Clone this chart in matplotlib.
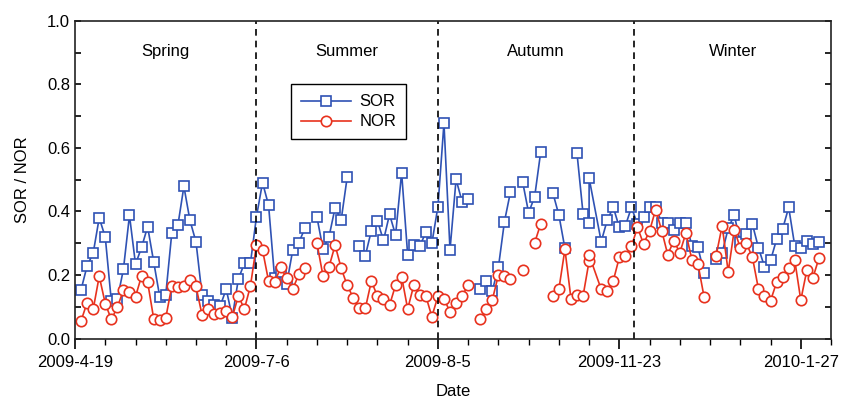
import numpy as np
import matplotlib
matplotlib.use('Agg')
import matplotlib.pyplot as plt
from matplotlib.ticker import MultipleLocator

plt.rcParams['font.family'] = ['Liberation Sans', 'DejaVu Sans']

nan = np.nan

# sample number along the x axis (two samples share number 85, none at 86)
sample = list(range(1, 86)) + [85] + list(range(87, 124))

sor = [0.154, 0.229, 0.269, 0.380, 0.319, 0.118, 0.124, 0.218, 0.388, 0.234,
       0.287, 0.352, 0.242, 0.132, 0.138, 0.333, 0.356, 0.479, 0.372, 0.304,
       0.137, 0.118, 0.105, 0.102, 0.156, 0.066, 0.187, 0.237, 0.237, 0.384,
       0.491, 0.420, 0.190, 0.210, 0.172, 0.279, 0.302, 0.347, nan, 0.382,
       0.282, 0.321, 0.412, 0.373, 0.508, nan, 0.292, 0.261, 0.340, 0.371,
       0.309, 0.391, 0.326, 0.522, 0.263, 0.295, 0.291, 0.334, 0.300, 0.415,
       0.678, 0.279, 0.501, 0.431, 0.440, nan, 0.156, 0.182, 0.151, 0.224,
       0.368, 0.462, nan, 0.494, 0.396, 0.447, 0.588, nan, 0.459, 0.389,
       0.284, nan, 0.583, 0.393, 0.363, 0.505, 0.305, 0.373, 0.413, 0.350,
       0.355, 0.413, 0.360, 0.382, 0.413, 0.413, 0.365, 0.363, 0.341, 0.365,
       0.365, 0.292, 0.287, 0.207, nan, 0.250, 0.270, 0.347, 0.389, 0.303,
       0.328, 0.360, 0.286, 0.226, 0.246, 0.312, 0.345, 0.413, 0.292, 0.286,
       0.308, 0.299, 0.305]

nor = [0.056, 0.113, 0.092, 0.196, 0.110, 0.060, 0.099, 0.152, 0.148, 0.132,
       0.197, 0.178, 0.063, 0.058, 0.065, 0.165, 0.161, 0.165, 0.183, 0.164,
       0.074, 0.092, 0.077, 0.081, 0.087, 0.067, 0.134, 0.093, 0.165, 0.295,
       0.279, 0.181, 0.177, 0.224, 0.190, 0.156, 0.202, 0.221, nan, 0.300,
       0.197, 0.226, 0.294, 0.222, 0.167, 0.129, 0.095, 0.095, 0.181, 0.133,
       0.126, 0.105, 0.168, 0.195, 0.093, 0.167, 0.137, 0.134, 0.069, 0.133,
       0.124, 0.085, 0.111, 0.134, 0.169, nan, 0.060, 0.094, 0.122, 0.200,
       0.197, 0.186, nan, 0.215, nan, 0.302, 0.361, nan, 0.134, 0.155,
       0.281, 0.126, 0.137, 0.134, 0.244, 0.263, 0.155, 0.151, 0.182, 0.256,
       0.259, 0.291, 0.350, 0.298, 0.339, 0.406, 0.340, 0.264, 0.308, 0.270,
       0.332, 0.248, 0.234, 0.132, nan, 0.261, 0.355, 0.210, 0.342, 0.286,
       0.300, 0.256, 0.156, 0.135, 0.119, 0.177, 0.194, 0.222, 0.247, 0.121,
       0.215, 0.191, 0.253]

tick_pos = [0, 30, 60, 90, 120]
tick_labels = ['2009-4-19', '2009-7-6', '2009-8-5', '2009-11-23', '2010-1-27']
season_bounds = [30, 60, 92.5]
seasons = ['Spring', 'Summer', 'Autumn', 'Winter']

blue = '#2f52b4'
red = '#e8321e'

fig = plt.figure(figsize=(8.46, 4.03), dpi=100)
ax = fig.add_axes([0.0887, 0.160, 0.8936, 0.788])

ax.plot(sample, sor, '-s', color=blue, lw=1.2, ms=6.5, mfc='white',
        mec=blue, mew=1.2, label='SOR')
ax.plot(sample, nor, '-o', color=red, lw=1.2, ms=7.5, mfc='white',
        mec=red, mew=1.2, label='NOR')

for b in season_bounds:
    ax.axvline(b, color='black', ls=(0, (4, 3)), lw=1.2)

edges = [0] + season_bounds + [125]
for k, name in enumerate(seasons):
    ax.text((edges[k] + edges[k + 1]) / 2, 0.905, name, ha='center',
            va='center', fontsize=12)

ax.set_xlim(0, 125)
ax.set_ylim(0, 1.0)
ax.set_xticks(tick_pos)
ax.set_xticklabels(tick_labels)
ax.xaxis.set_minor_locator(MultipleLocator(5))
ax.yaxis.set_major_locator(MultipleLocator(0.2))
ax.yaxis.set_minor_locator(MultipleLocator(0.1))
ax.yaxis.set_major_formatter(matplotlib.ticker.FormatStrFormatter('%.1f'))

ax.tick_params(axis='x', which='major', direction='out', length=7, width=1.2,
               labelsize=12, pad=5)
ax.tick_params(axis='x', which='minor', direction='out', length=4, width=1.0)
ax.tick_params(axis='y', which='both', direction='in', length=4, width=1.2,
               labelsize=12, right=True)
for s in ax.spines.values():
    s.set_linewidth(1.2)
    s.set_color('#222222')

ax.set_xlabel('Date', fontsize=12, labelpad=10)
ax.set_ylabel('SOR / NOR', fontsize=12, labelpad=12)

leg = ax.legend(loc='upper left', bbox_to_anchor=(0.286, 0.80), fontsize=12,
                frameon=True, fancybox=False, handlelength=3.0,
                borderpad=0.6, labelspacing=0.3, handletextpad=0.5,
                borderaxespad=0, framealpha=1)
leg.get_frame().set_edgecolor('black')
leg.get_frame().set_linewidth(1.0)

fig.savefig('out.png', dpi=100)
